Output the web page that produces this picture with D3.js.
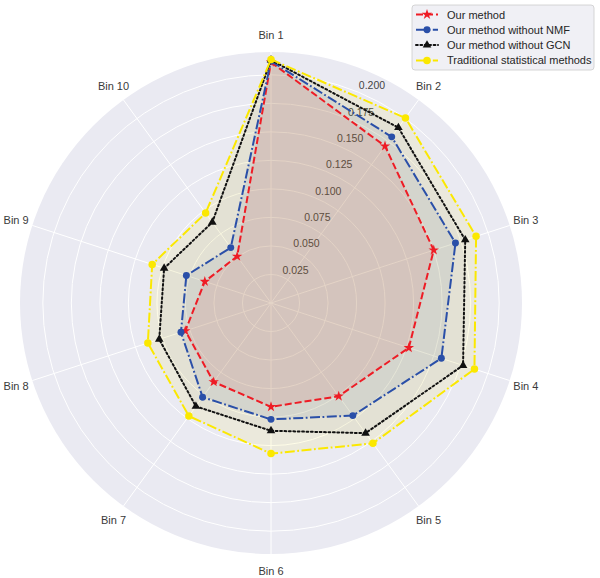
<!DOCTYPE html>
<html>
<head>
<meta charset="utf-8">
<script src="https://cdn.jsdelivr.net/npm/d3@7/dist/d3.min.js"></script>
<style>
  html, body { margin: 0; padding: 0; background: #ffffff; }
  svg { display: block; font-family: "Liberation Sans", Arial, sans-serif; }
</style>
</head>
<body>
<svg id="chart" width="600" height="578"></svg>
<script>
// ---- data ----
const categories = ["Bin 1", "Bin 2", "Bin 3", "Bin 4", "Bin 5", "Bin 6", "Bin 7", "Bin 8", "Bin 9", "Bin 10"];
const seriesNames = ["Our method", "Our method without NMF", "Our method without GCN", "Traditional statistical methods"];
const ourMethod      = [0.211, 0.170, 0.150, 0.127, 0.101, 0.091, 0.0855, 0.079, 0.061, 0.0505];
const withoutNMF     = [0.212, 0.180, 0.170, 0.157, 0.122, 0.102, 0.102, 0.083, 0.078, 0.060];
const withoutGCN     = [0.213, 0.190, 0.179, 0.177, 0.141, 0.112, 0.112, 0.103, 0.0985, 0.0875];
const traditional    = [0.2135, 0.2005, 0.189, 0.1875, 0.152, 0.132, 0.1225, 0.1135, 0.1095, 0.0975];
const radialTicks = [0.025, 0.050, 0.075, 0.100, 0.125, 0.150, 0.175, 0.200];
const rMax = 0.22;

const seriesValues = [ourMethod, withoutNMF, withoutGCN, traditional];
const styles = [
  { color: "#ee1c25", dash: "7,3", symbol: d3.symbolStar, size: 34, fillOpacity: 0.1 },
  { color: "#2a4fa8", dash: "10,2.5,1.8,2.5", symbol: d3.symbolCircle, size: 38, fillOpacity: 0.09 },
  { color: "#111111", dash: "1.8,2.6", symbol: d3.symbolTriangle, size: 32, cap: "round", fillOpacity: 0.04 },
  { color: "#fbe800", dash: "10,2.5,1.8,2.5", symbol: d3.symbolCircle, size: 44, fillOpacity: 0.09 }
];

// ---- layout ----
const svg = d3.select("#chart");
const cx = 271, cy = 303, R = 251;
const r = d3.scaleLinear().domain([0, rMax]).range([0, R]);
const angle = d3.scaleLinear().domain([0, categories.length]).range([0, 2 * Math.PI]);

const g = svg.append("g").attr("transform", `translate(${cx},${cy})`);

// background
g.append("circle").attr("r", R).attr("fill", "#eaeaf2");

// rings
g.selectAll("circle.ring").data(radialTicks).join("circle")
  .attr("class", "ring").attr("r", d => r(d))
  .attr("fill", "none").attr("stroke", "#ffffff").attr("stroke-width", 1);

// spokes
g.selectAll("line.spoke").data(categories).join("line")
  .attr("class", "spoke")
  .attr("x1", 0).attr("y1", 0)
  .attr("x2", (d, i) => R * Math.sin(angle(i)))
  .attr("y2", (d, i) => -R * Math.cos(angle(i)))
  .attr("stroke", "#ffffff").attr("stroke-width", 1);

// radial tick labels (at 22.5 degrees)
const la = 22.5 * Math.PI / 180;
g.selectAll("text.rlab").data(radialTicks).join("text")
  .attr("class", "rlab")
  .attr("x", d => r(d) * Math.sin(la) + 0.5)
  .attr("y", d => -r(d) * Math.cos(la) - 3)
  .attr("text-anchor", "start")
  .attr("font-size", 10.5)
  .attr("fill", "#444444")
  .text(d => d3.format(".3f")(d));

// category labels
g.selectAll("text.cat").data(categories).join("text")
  .attr("class", "cat")
  .attr("x", (d, i) => 268 * Math.sin(angle(i)))
  .attr("y", (d, i) => -268 * Math.cos(angle(i)))
  .attr("text-anchor", "middle")
  .attr("dominant-baseline", "central")
  .attr("font-size", 11)
  .attr("fill", "#3a3a3a")
  .text(d => d);

// series
const lineGen = d3.lineRadial()
  .angle((d, i) => angle(i))
  .radius(d => r(d))
  .curve(d3.curveLinearClosed);

// fills first
seriesValues.forEach((vals, si) => {
  const st = styles[si];
  g.append("path").attr("d", lineGen(vals))
    .attr("fill", st.color).attr("fill-opacity", st.fillOpacity).attr("stroke", "none");
});

// lines and markers on top
seriesValues.forEach((vals, si) => {
  const st = styles[si];
  const sg = g.append("g");
  sg.append("path").attr("d", lineGen(vals))
    .attr("fill", "none").attr("stroke", st.color).attr("stroke-width", 2)
    .attr("stroke-dasharray", st.dash)
    .attr("stroke-linecap", st.cap || "butt");
  sg.selectAll("path.mk").data(vals).join("path")
    .attr("class", "mk")
    .attr("d", d3.symbol().type(st.symbol).size(st.size))
    .attr("transform", (d, i) => {
      const a = angle(i);
      const x = r(d) * Math.sin(a), y = -r(d) * Math.cos(a);
      return `translate(${x},${y})`;
    })
    .attr("fill", st.color);
});

// legend
const lg = svg.append("g").attr("transform", "translate(412,5)");
lg.append("rect").attr("x", 0).attr("y", 0).attr("width", 182).attr("height", 65)
  .attr("rx", 3).attr("fill", "#eeeef4").attr("fill-opacity", 0.9)
  .attr("stroke", "#cccccc").attr("stroke-width", 0.8);
seriesNames.forEach((name, i) => {
  const st = styles[i];
  const y = 9.5 + i * 15.3;
  lg.append("line").attr("x1", 4).attr("x2", 26).attr("y1", y).attr("y2", y)
    .attr("stroke", st.color).attr("stroke-width", 2)
    .attr("stroke-dasharray", st.dash).attr("stroke-linecap", st.cap || "butt");
  lg.append("path").attr("d", d3.symbol().type(st.symbol).size(st.size))
    .attr("transform", `translate(15,${y})`).attr("fill", st.color);
  lg.append("text").attr("x", 35).attr("y", y).attr("dominant-baseline", "central")
    .attr("font-size", 11).attr("fill", "#262626").text(name);
});
</script>
</body>
</html>
